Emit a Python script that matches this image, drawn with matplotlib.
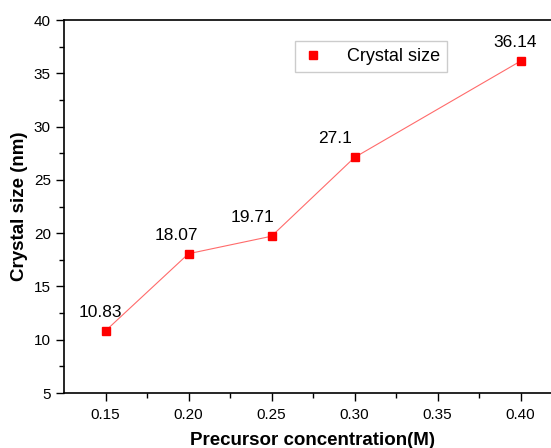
import matplotlib.pyplot as plt
import numpy as np

plt.rcParams['font.family'] = ['Liberation Sans', 'DejaVu Sans']

# data
concentration = [0.15, 0.20, 0.25, 0.30, 0.40]
crystal_size = [10.83, 18.07, 19.71, 27.1, 36.14]
point_labels = ["10.83", "18.07", "19.71", "27.1", "36.14"]
label_dx = [-4, -9, -14, -14, -4]

fig = plt.figure(figsize=(5.51, 4.48), dpi=100)
# axes reach a little past the right edge like the original crop
ax = fig.add_axes([64 / 551, (448 - 393) / 448, 498 / 551, 373 / 448])

ax.plot(concentration, crystal_size, color="#ff6b6b", linewidth=0.8,
        marker="s", markersize=6, markerfacecolor="red", markeredgecolor="red",
        label="Crystal size")

for x, y, txt, dx in zip(concentration, crystal_size, point_labels, label_dx):
    ax.annotate(txt, (x, y), xytext=(dx, 8), textcoords="offset points",
                ha="center", va="bottom", fontsize=12.5)

ax.set_xlim(0.125, 0.425)
ax.set_ylim(5, 40)
ax.set_xticks([0.15, 0.20, 0.25, 0.30, 0.35, 0.40])
ax.set_xticklabels(["0.15", "0.20", "0.25", "0.30", "0.35", "0.40"])
ax.set_xticks(np.arange(0.175, 0.42, 0.05), minor=True)
ax.set_yticks(range(5, 41, 5))
ax.set_yticks(np.arange(7.5, 40, 5), minor=True)
ax.tick_params(which="major", direction="out", length=6, width=1, labelsize=11)
ax.tick_params(axis="x", which="major", pad=5)
ax.tick_params(which="minor", direction="out", length=3.5, width=1)

for s in ax.spines.values():
    s.set_linewidth(1.2)

ax.set_xlabel("Precursor concentration(M)", fontsize=13.5, fontweight="bold", labelpad=7)
ax.set_ylabel("Crystal size (nm)", fontsize=13.5, fontweight="bold", labelpad=4)

leg = ax.legend(loc="upper left", bbox_to_anchor=(0.445, 0.968), fontsize=13,
                handlelength=1.2, handletextpad=1.3, borderpad=0.4,
                fancybox=False, framealpha=1, edgecolor="#cccccc")
leg.legend_handles[0].set_linestyle("none")

fig.savefig("out.png", dpi=100)
